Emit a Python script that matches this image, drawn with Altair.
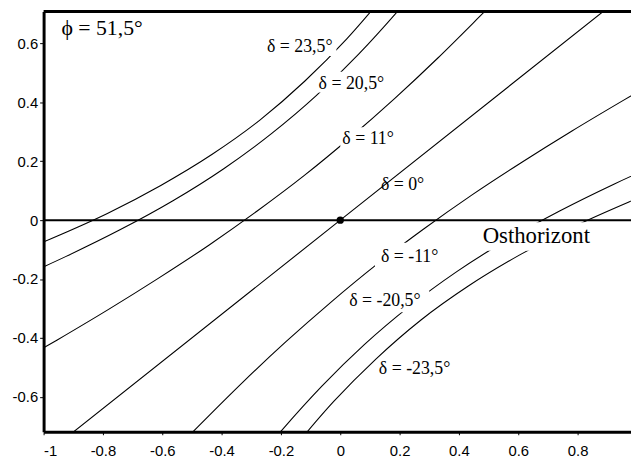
import altair as alt
import pandas as pd

# ---- sun-path curves (x, y) ----
CURVES = ["d23.5", "d20.5", "d11", "d0", "d-11", "d-20.5", "d-23.5"]

D235_X = [-1.165, -0.973, -0.785, -0.605, -0.433, -0.271, -0.120, 0.022, 0.154]
D235_Y = [-0.141, -0.062, 0.023, 0.118, 0.223, 0.340, 0.472, 0.616, 0.770]

D205_X = [-1.112, -0.924, -0.741, -0.564, -0.394, -0.233, -0.081, 0.062, 0.198, 0.264]
D205_Y = [-0.209, -0.123, -0.032, 0.066, 0.174, 0.293, 0.423, 0.564, 0.715, 0.793]

D11_X = [-1.128, -0.954, -0.781, -0.611, -0.443, -0.280, -0.121, 0.033, 0.183, 0.329, 0.471, 0.542]
D11_Y = [-0.509, -0.407, -0.303, -0.196, -0.085, 0.031, 0.152, 0.280, 0.413, 0.551, 0.693, 0.765]

D0_X = [-0.95, 0.0, 0.95]
D0_Y = [-0.76, 0.0, 0.76]

DM11_X = [-0.612, -0.471, -0.329, -0.183, -0.033, 0.121, 0.280, 0.443, 0.611, 0.781, 0.954, 1.128]
DM11_Y = [-0.838, -0.693, -0.551, -0.413, -0.280, -0.152, -0.031, 0.085, 0.196, 0.303, 0.407, 0.509]

DM205_X = [-0.264, -0.198, -0.062, 0.081, 0.233, 0.394, 0.564, 0.741, 0.924, 1.112]
DM205_Y = [-0.793, -0.715, -0.564, -0.423, -0.293, -0.174, -0.066, 0.032, 0.123, 0.209]

DM235_X = [-0.154, -0.022, 0.120, 0.271, 0.433, 0.605, 0.785, 0.973, 1.165]
DM235_Y = [-0.770, -0.616, -0.472, -0.340, -0.223, -0.118, -0.023, 0.062, 0.141]

CURVE_X = [D235_X, D205_X, D11_X, D0_X, DM11_X, DM205_X, DM235_X]
CURVE_Y = [D235_Y, D205_Y, D11_Y, D0_Y, DM11_Y, DM205_Y, DM235_Y]

# ---- point on the horizon ----
DOT_X = [0.0]
DOT_Y = [0.0]

# ---- tick values ----
X_TICKS = [-1, -0.8, -0.6, -0.4, -0.2, 0, 0.2, 0.4, 0.6, 0.8]
Y_TICKS = [-0.6, -0.4, -0.2, 0, 0.2, 0.4, 0.6]

# ---- annotations ----
LABEL_TEXT = ["ϕ = 51,5°", "δ = 23,5°", "δ = 20,5°", "δ = 11°", "δ = 0°",
              "δ = -11°", "δ = -20,5°", "δ = -23,5°", "Osthorizont"]
LABEL_X = [-0.94, -0.247, -0.073, 0.007, 0.137, 0.137, 0.03, 0.13, 0.48]
LABEL_Y = [0.629, 0.571, 0.447, 0.259, 0.101, -0.141, -0.292, -0.524, -0.077]
LABEL_SIZE = [22, 18, 18, 18, 18, 18, 18, 18, 23]

# white label backgrounds that interrupt the curves
BOX_X1 = [-0.253, -0.08, 0.0, 0.117, 0.027, 0.473]
BOX_X2 = [-0.013, 0.157, 0.19, 0.343, 0.30, 0.847]
BOX_Y1 = [0.558, 0.434, 0.245, -0.161, -0.313, -0.104]
BOX_Y2 = [0.625, 0.504, 0.316, -0.077, -0.239, -0.007]

X_MIN, X_MAX = -1.0, 0.98
Y_MIN, Y_MAX = -0.719, 0.709

rows = []
for name, xs_, ys_ in zip(CURVES, CURVE_X, CURVE_Y):
    for xv, yv in zip(xs_, ys_):
        rows.append({"curve": name, "x": xv, "y": yv})
curves_df = pd.DataFrame(rows)

labels_df = pd.DataFrame({"t": LABEL_TEXT, "x": LABEL_X, "y": LABEL_Y, "fs": LABEL_SIZE})
boxes_df = pd.DataFrame({"x": BOX_X1, "x2": BOX_X2, "y": BOX_Y1, "y2": BOX_Y2})
dot_df = pd.DataFrame({"x": DOT_X, "y": DOT_Y})
horizon_df = pd.DataFrame({"y": [0.0]})
top_df = pd.DataFrame({"y": [Y_MAX]})

xscale = alt.Scale(domain=[X_MIN, X_MAX], nice=False, zero=False)
yscale = alt.Scale(domain=[Y_MIN, Y_MAX], nice=False, zero=False)

X_AX = alt.Axis(values=X_TICKS, labelExpr="'' + datum.value", grid=False,
                domainWidth=3, domainColor="black", tickColor="black", tickSize=3,
                tickWidth=1, labelFont="Liberation Sans", labelFontSize=15,
                labelColor="black", title=None, labelPadding=9, labelFlush=True,
                labelOverlap=False)
Y_AX = alt.Axis(values=Y_TICKS, labelExpr="'' + datum.value", grid=False,
                domainWidth=3, domainColor="black", tickColor="black", tickSize=4,
                tickWidth=1, labelFont="Liberation Sans", labelFontSize=15,
                labelColor="black", title=None, labelPadding=2, labelOverlap=False)

curves = alt.Chart(curves_df).mark_line(
    color="black", strokeWidth=1.1, interpolate="monotone", clip=True
).encode(
    x=alt.X("x:Q", scale=xscale, axis=X_AX),
    y=alt.Y("y:Q", scale=yscale, axis=Y_AX),
    detail="curve:N",
)

boxes = alt.Chart(boxes_df).mark_rect(color="white").encode(
    x=alt.X("x:Q", scale=xscale, axis=X_AX), x2="x2:Q",
    y=alt.Y("y:Q", scale=yscale, axis=Y_AX), y2="y2:Q",
)

horizon = alt.Chart(horizon_df).mark_rule(color="black", strokeWidth=2).encode(
    y=alt.Y("y:Q", scale=yscale, axis=Y_AX)
)

top = alt.Chart(top_df).mark_rule(color="black", strokeWidth=3).encode(
    y=alt.Y("y:Q", scale=yscale, axis=Y_AX)
)

dot = alt.Chart(dot_df).mark_circle(color="black", size=55, opacity=1).encode(
    x=alt.X("x:Q", scale=xscale, axis=X_AX),
    y=alt.Y("y:Q", scale=yscale, axis=Y_AX),
)

texts = alt.Chart(labels_df).mark_text(
    align="left", baseline="alphabetic", font="Liberation Serif", color="black"
).encode(
    x=alt.X("x:Q", scale=xscale, axis=X_AX),
    y=alt.Y("y:Q", scale=yscale, axis=Y_AX),
    text="t:N",
    size=alt.Size("fs:Q", scale=None, legend=None),
)

chart = alt.layer(curves, boxes, horizon, top, dot, texts).properties(
    width=594,
    height=425,
    autosize=alt.AutoSizeParams(type="none"),
    padding={"left": 36, "top": 1, "right": 0, "bottom": 26},
).configure_view(stroke="transparent")

chart.save("out.html", embed_options={"renderer": "svg", "actions": False})
